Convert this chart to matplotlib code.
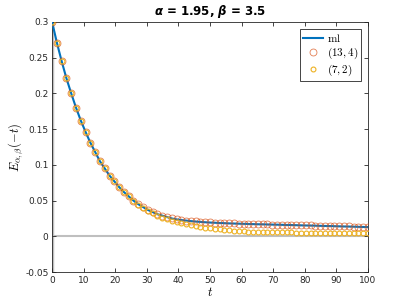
import numpy as np
import matplotlib
matplotlib.use("Agg")
import matplotlib.pyplot as plt

t = np.linspace(0, 100, 67)
ml = [0.300, 0.271, 0.245, 0.221, 0.200, 0.180, 0.162, 0.146, 0.131, 0.118,
      0.105, 0.095, 0.085, 0.077, 0.069, 0.062, 0.056, 0.050, 0.045, 0.041,
      0.037, 0.034, 0.031, 0.029, 0.027, 0.025, 0.0237, 0.0228, 0.0220, 0.0213,
      0.0207, 0.0202, 0.0197, 0.0193, 0.0190, 0.0187, 0.0184, 0.0181, 0.0179, 0.0177,
      0.0175, 0.0173, 0.0171, 0.0169, 0.0168, 0.0166, 0.0164, 0.0163, 0.0161, 0.0159,
      0.0158, 0.0156, 0.0154, 0.0152, 0.0151, 0.0149, 0.0147, 0.0145, 0.0144, 0.0142,
      0.0140, 0.0138, 0.0137, 0.0135, 0.0133, 0.0131, 0.0130]
pade13 = [0.300, 0.271, 0.245, 0.221, 0.200, 0.180, 0.162, 0.146, 0.131, 0.118,
          0.105, 0.095, 0.085, 0.077, 0.069, 0.062, 0.056, 0.050, 0.045, 0.041,
          0.037, 0.034, 0.031, 0.029, 0.027, 0.025, 0.0238, 0.0229, 0.0221, 0.0214,
          0.0208, 0.0203, 0.0198, 0.0194, 0.0191, 0.0188, 0.0185, 0.0182, 0.0180, 0.0178,
          0.0176, 0.0174, 0.0172, 0.0170, 0.0169, 0.0167, 0.0165, 0.0164, 0.0162, 0.0160,
          0.0159, 0.0157, 0.0155, 0.0153, 0.0152, 0.0150, 0.0148, 0.0146, 0.0145, 0.0143,
          0.0141, 0.0139, 0.0138, 0.0136, 0.0134, 0.0132, 0.0131]
pade7 = [0.300, 0.271, 0.245, 0.221, 0.200, 0.180, 0.162, 0.146, 0.131, 0.118,
         0.105, 0.095, 0.085, 0.077, 0.069, 0.062, 0.056, 0.050, 0.044, 0.039,
         0.035, 0.032, 0.029, 0.026, 0.024, 0.022, 0.020, 0.0183, 0.0168, 0.0155,
         0.0143, 0.0132, 0.0122, 0.0113, 0.0104, 0.0097, 0.0091, 0.0085, 0.0080, 0.0075,
         0.0071, 0.0067, 0.0064, 0.0062, 0.0060, 0.0059, 0.0058, 0.0057, 0.0056, 0.0055,
         0.0054, 0.0053, 0.0052, 0.0051, 0.0050, 0.0049, 0.0048, 0.0047, 0.0046, 0.0045,
         0.0044, 0.0043, 0.0043, 0.0042, 0.0041, 0.0041, 0.0040]
xticks = np.arange(0, 101, 10)
yticks = [-0.05, 0, 0.05, 0.1, 0.15, 0.2, 0.25, 0.3]
ytick_labels = ["-0.05", "0", "0.05", "0.1", "0.15", "0.2", "0.25", "0.3"]

plt.rcParams["mathtext.fontset"] = "cm"
plt.rcParams["font.family"] = "DejaVu Sans"

blue = (0, 0.447, 0.741)
orange = (0.85, 0.325, 0.098)
yellow = (0.929, 0.694, 0.125)

fig = plt.figure(figsize=(4.07, 3.05), dpi=100)
ax = fig.add_axes([0.128, 0.108, 0.776, 0.82])

ax.axhline(0, color="0.75", lw=1.5, zorder=1)
ax.axvline(0, color="0.75", lw=2.5, zorder=1)
ax.plot(t, ml, color=blue, lw=1.5, label=r"$\mathrm{ml}$", zorder=3)
ax.plot(t, pade13, "o", ms=5, mfc="none", mec=orange, mew=0.6, alpha=0.75,
        label="$(13,4)$", zorder=4)
ax.plot(t, pade7, "o", ms=3.5, mfc="none", mec=yellow, mew=0.8,
        label="$(7,2)$", zorder=4)

ax.set_xlim(0, 100)
ax.set_ylim(-0.05, 0.3)
ax.set_xticks(xticks)
ax.set_yticks(yticks)
ax.set_yticklabels(ytick_labels)
ax.tick_params(direction="in", top=True, right=True, labelsize=6.5,
               colors="0.15", length=3, width=0.6, pad=2.5)
for s in ax.spines.values():
    s.set_color("0.15")
    s.set_linewidth(0.6)

ax.set_xlabel("$t$", fontsize=9, labelpad=1)
ax.set_ylabel(r"$E_{\alpha,\beta}(-t)$", fontsize=9)
ax.yaxis.set_label_coords(-0.085, 0.5)
ax.set_title(r"$\mathbfit{\alpha}$ = 1.95, $\mathbfit{\beta}$ = 3.5",
             fontsize=8.5, fontweight="bold", math_fontfamily="dejavusans", pad=5)

leg = ax.legend(loc="upper right", fontsize=8, fancybox=False, framealpha=1,
                edgecolor="0.15", handlelength=1.8, borderpad=0.3,
                labelspacing=0.15, handletextpad=0.3, borderaxespad=0.6)
leg.get_frame().set_linewidth(0.6)

fig.savefig("out.png", dpi=100)
